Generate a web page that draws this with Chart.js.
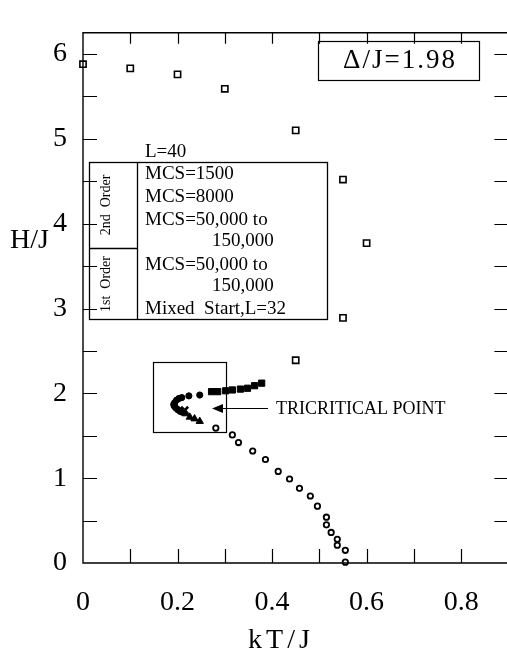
<!DOCTYPE html>
<html>
<head>
<meta charset="utf-8">
<script src="https://cdn.jsdelivr.net/npm/chart.js@4.4.1/dist/chart.umd.min.js"></script>
<style>
  html, body { margin: 0; padding: 0; background: #fff; overflow: hidden; }
  #wrap { width: 516px; height: 667px; }
</style>
</head>
<body>
<div id="wrap"><canvas id="c" width="516" height="667"></canvas></div>
<script>
// L=40, 2nd order, MCS=1500
const kT1500 = [0.0, 0.1, 0.2, 0.3, 0.45, 0.55, 0.6, 0.55, 0.45];
const H1500  = [5.88, 5.83, 5.76, 5.59, 5.10, 4.52, 3.77, 2.89, 2.39];
// L=40, 2nd order, MCS=8000
const kT8000 = [0.272, 0.285, 0.302, 0.316, 0.333, 0.348, 0.363, 0.378];
const H8000  = [2.02, 2.02, 2.03, 2.04, 2.05, 2.06, 2.09, 2.12];
// L=40, 2nd order, MCS=50,000 to 150,000
const kTLong2 = [0.247, 0.224, 0.209, 0.203, 0.198, 0.194, 0.192, 0.193, 0.196, 0.200, 0.205, 0.209];
const HLong2  = [1.98, 1.97, 1.95, 1.94, 1.92, 1.89, 1.87, 1.85, 1.83, 1.81, 1.79, 1.78];
// L=40, 1st order, MCS=50,000 to 150,000
const kTLong1 = [0.217, 0.226, 0.236, 0.247];
const HLong1  = [1.76, 1.72, 1.70, 1.67];
// L=32, 1st order, mixed start
const kTMixed = [0.281, 0.316, 0.329, 0.359, 0.386, 0.413, 0.437, 0.458, 0.481, 0.496, 0.515, 0.515, 0.525, 0.538, 0.538, 0.555, 0.555];
const HMixed  = [1.59, 1.51, 1.42, 1.32, 1.22, 1.08, 0.99, 0.88, 0.79, 0.67, 0.54, 0.45, 0.36, 0.28, 0.21, 0.15, 0.01];
// tricritical point estimate
const kTTri = [0.215];
const HTri  = [1.80];

// axes
const xTickValues = [0, 0.2, 0.4, 0.6, 0.8];
const xTickLabels = ['0', '0.2', '0.4', '0.6', '0.8'];
const yTickValues = [0, 1, 2, 3, 4, 5, 6];
const yTickLabels = ['0', '1', '2', '3', '4', '5', '6'];
const xMinorTicks = [0.1, 0.2, 0.3, 0.4, 0.5, 0.6, 0.7, 0.8];
const yMinorTicks = [0.5, 1, 1.5, 2, 2.5, 3, 3.5, 4, 4.5, 5, 5.5, 6];

const SERIF = '"Liberation Serif", "DejaVu Serif", serif';
const pts = (xs, ys) => xs.map((x, i) => ({ x: x, y: ys[i] }));

const styles = {
  m1500:  { pointStyle: 'rect', radius: 4.4, borderWidth: 1.6, backgroundColor: '#fff' },
  m8000:  { pointStyle: 'rect', radius: 4.4, borderWidth: 1, backgroundColor: '#000' },
  long2:  { pointStyle: 'circle', radius: 3.1, borderWidth: 1, backgroundColor: '#000' },
  long1:  { pointStyle: 'triangle', radius: 4.2, borderWidth: 1, backgroundColor: '#000' },
  mixed:  { pointStyle: 'circle', radius: 2.7, borderWidth: 1.8, backgroundColor: '#fff' },
  tri:    { pointStyle: 'crossRot', radius: 5, borderWidth: 2.6, backgroundColor: '#000' }
};

function ds(label, data, st) {
  return {
    label: label, data: data, showLine: false, clip: false,
    pointStyle: st.pointStyle, pointRadius: st.radius, pointBorderWidth: st.borderWidth,
    pointBackgroundColor: st.backgroundColor, pointBorderColor: '#000'
  };
}

const annotations = {
  id: 'annotations',
  afterDatasetsDraw(chart) {
    const ctx = chart.ctx;
    const ca = chart.chartArea;
    const xs = chart.scales.x, ys = chart.scales.y;
    ctx.save();
    ctx.strokeStyle = '#000';
    ctx.fillStyle = '#000';

    // frame
    ctx.lineWidth = 1.4;
    ctx.beginPath();
    ctx.moveTo(ca.right, ca.top); ctx.lineTo(ca.left, ca.top);
    ctx.lineTo(ca.left, ca.bottom); ctx.lineTo(ca.right, ca.bottom);
    ctx.lineTo(ca.right, ca.top);
    ctx.stroke();

    // inward ticks
    ctx.lineWidth = 1.2;
    ctx.beginPath();
    xMinorTicks.forEach(v => {
      const px = Math.round(xs.getPixelForValue(v)) + 0.5;
      ctx.moveTo(px, ca.bottom); ctx.lineTo(px, ca.bottom - 14);
      ctx.moveTo(px, ca.top); ctx.lineTo(px, ca.top + 11);
    });
    yMinorTicks.forEach(v => {
      const py = Math.round(ys.getPixelForValue(v)) + 0.5;
      ctx.moveTo(ca.left, py); ctx.lineTo(ca.left + 14, py);
      ctx.moveTo(ca.right, py); ctx.lineTo(ca.right - 14, py);
    });
    ctx.stroke();

    // axis titles
    ctx.textBaseline = 'middle';
    ctx.textAlign = 'left';
    ctx.font = '28px ' + SERIF;
    ctx.fillText('H/J', 10, 241);
    spaced(ctx, 'kT/J', 279, 641, 4, '28px ' + SERIF);

    // parameter box
    ctx.lineWidth = 1.2;
    ctx.strokeRect(318.5, 41.5, 161, 39);
    spaced(ctx, '\u0394/J=1.98', 399, 61, 2, '27px ' + SERIF);

    // legend block
    ctx.lineWidth = 1.3;
    ctx.strokeRect(89.5, 162.5, 238, 157);
    ctx.beginPath();
    ctx.moveTo(137.5, 162.5); ctx.lineTo(137.5, 319.5);
    ctx.moveTo(89.5, 248.5); ctx.lineTo(137.5, 248.5);
    ctx.stroke();

    ctx.font = '19px ' + SERIF;
    ctx.textAlign = 'left';
    ctx.fillText('L=40', 145, 152);
    const rows = [
      { y: 174, text: 'MCS=1500', st: styles.m1500 },
      { y: 197, text: 'MCS=8000', st: styles.m8000 },
      { y: 220, text: 'MCS=50,000 to', st: styles.long2 },
      { y: 241, text: '150,000', x: 212 },
      { y: 265, text: 'MCS=50,000 to', st: styles.long1 },
      { y: 286, text: '150,000', x: 212 },
      { y: 309, text: 'Mixed  Start,L=32', st: styles.mixed }
    ];
    rows.forEach(r => {
      ctx.fillStyle = '#000';
      ctx.fillText(r.text, r.x || 145, r.y);
      if (r.st) {
        ctx.fillStyle = r.st.backgroundColor;
        ctx.strokeStyle = '#000';
        ctx.lineWidth = r.st.borderWidth;
        Chart.helpers.drawPoint(ctx, { pointStyle: r.st.pointStyle, rotation: 0, borderWidth: r.st.borderWidth },
          123, r.y, r.st.radius * 0.85);
      }
    });
    ctx.fillStyle = '#000';
    ctx.font = '14px ' + SERIF;
    ctx.textAlign = 'center';
    [['2nd  Order', 205], ['1st  Order', 284]].forEach(([t, y]) => {
      ctx.save();
      ctx.translate(106, y);
      ctx.rotate(-Math.PI / 2);
      ctx.fillText(t, 0, 0);
      ctx.restore();
    });

    // tricritical region and pointer
    ctx.lineWidth = 1.2;
    ctx.strokeRect(153.5, 362.5, 73, 70);
    ctx.beginPath();
    ctx.moveTo(268, 408.5); ctx.lineTo(220, 408.5);
    ctx.stroke();
    ctx.beginPath();
    ctx.moveTo(212, 408.5); ctx.lineTo(223, 404); ctx.lineTo(223, 413); ctx.closePath();
    ctx.fill();
    ctx.font = '18px ' + SERIF;
    ctx.textAlign = 'left';
    ctx.fillText('TRICRITICAL POINT', 276, 409);

    ctx.restore();
  }
};

function spaced(ctx, text, cx, cy, gap, font) {
  ctx.save();
  ctx.font = font;
  ctx.textAlign = 'left';
  ctx.textBaseline = 'middle';
  const chars = Array.from(text);
  const widths = chars.map(ch => ctx.measureText(ch).width);
  const total = widths.reduce((a, b) => a + b, 0) + gap * (chars.length - 1);
  let x = cx - total / 2;
  chars.forEach((ch, i) => { ctx.fillText(ch, x, cy); x += widths[i] + gap; });
  ctx.restore();
}

new Chart(document.getElementById('c'), {
  type: 'scatter',
  data: {
    datasets: [
      ds('MCS=1500', pts(kT1500, H1500), styles.m1500),
      ds('MCS=8000', pts(kT8000, H8000), styles.m8000),
      ds('MCS=50,000 to 150,000 (2nd order)', pts(kTLong2, HLong2), styles.long2),
      ds('MCS=50,000 to 150,000 (1st order)', pts(kTLong1, HLong1), styles.long1),
      ds('Mixed Start, L=32', pts(kTMixed, HMixed), styles.mixed),
      ds('Tricritical point', pts(kTTri, HTri), styles.tri)
    ]
  },
  options: {
    responsive: false,
    animation: false,
    events: [],
    layout: { padding: { top: 9, right: 2, left: 0, bottom: 0 } },
    plugins: { legend: { display: false }, tooltip: { enabled: false }, title: { display: false } },
    scales: {
      x: {
        type: 'linear', min: 0, max: 0.9,
        afterBuildTicks: s => { s.ticks = xTickValues.map(v => ({ value: v })); },
        afterFit: s => { s.height = 104; },
        grid: { display: false, drawTicks: false },
        border: { display: false },
        ticks: {
          callback: (v, i) => xTickLabels[i],
          color: '#000', font: { family: SERIF, size: 28 }, padding: 23,
          maxRotation: 0, autoSkip: false
        }
      },
      y: {
        type: 'linear', min: 0, max: 6.25,
        afterBuildTicks: s => { s.ticks = yTickValues.map(v => ({ value: v })); },
        afterFit: s => { s.width = 83; },
        grid: { display: false, drawTicks: false },
        border: { display: false },
        ticks: {
          callback: (v, i) => yTickLabels[i],
          color: '#000', font: { family: SERIF, size: 28 }, padding: 16,
          autoSkip: false
        }
      }
    }
  },
  plugins: [annotations]
});
</script>
</body>
</html>
